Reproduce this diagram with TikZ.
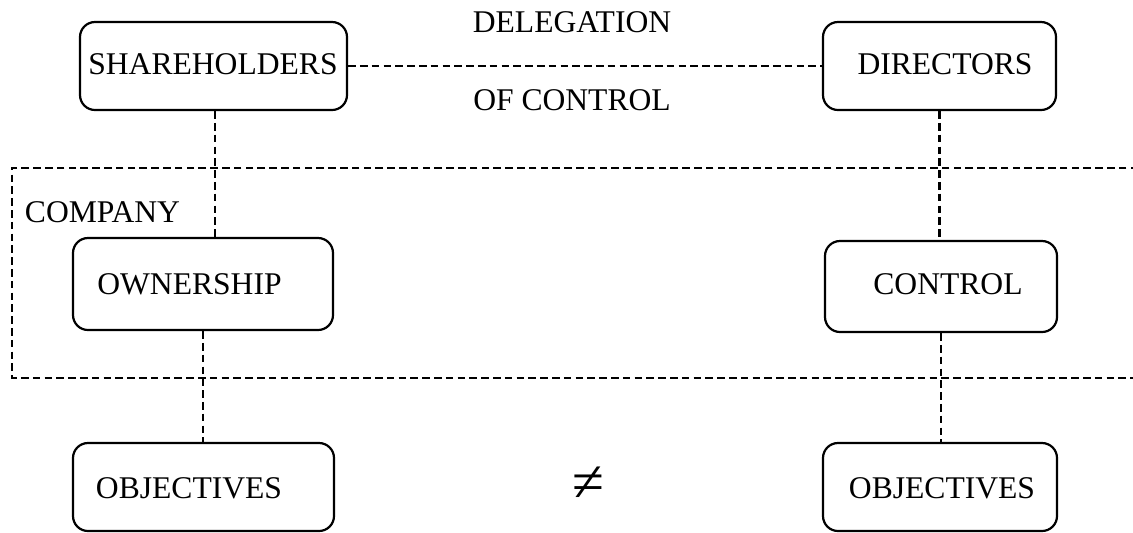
\documentclass[tikz,border=0pt]{standalone}
\usepackage{fontspec}
\setmainfont{Liberation Serif}
\usetikzlibrary{positioning}

\begin{document}
\begin{tikzpicture}[x=0.5pt, y=-0.5pt,
    font=\fontsize{15.8}{19}\selectfont,
    box/.style={draw, line width=1.1pt, rounded corners=7.5pt, minimum height=44pt},
    word/.style={inner sep=0pt, text depth=0pt},
    link/.style={line width=1.05pt, dash pattern=on 3.8pt off 2.1pt}]
    \useasboundingbox (0,0) rectangle (1133,532);

    % company frame, open on the right
    \draw[link] (1150,168) -- (12,168) -- (12,378) -- (1150,378);
    \node[word] (company) at (102.5,212) {COMPANY};

    % boxes
    \node[box, minimum width=133.5pt] (share) at (213.5,66) {};
    \node[box, minimum width=116.5pt] (dir) at (939.5,66) {};
    \node[box, minimum width=130pt, minimum height=46pt] (own) at (203,284) {};
    \node[box, minimum width=116pt, minimum height=45.5pt] (ctl) at (941,286.5) {};
    \node[box, minimum width=130.5pt] (objl) at (203.5,487) {};
    \node[box, minimum width=117pt] (objr) at (940,487) {};

    % words inside the boxes
    \node[word] (sharetext) at (213,64) {SHAREHOLDERS};
    \node[word] (dirtext) at (945,64) {DIRECTORS};
    \node[word] (owntext) at (189.5,284) {OWNERSHIP};
    \node[word] (ctltext) at (948,284) {CONTROL};
    \node[word] (objltext) at (189,488.5) {OBJECTIVES};
    \node[word] (objrtext) at (942,488.5) {OBJECTIVES};

    % delegation link
    \draw[link] (share.east) -- (dir.west);
    \node[word] (deleg) at (572,22) {DELEGATION};
    \node[word] (ofctl) at (572,100) {OF CONTROL};

    % vertical links
    \draw[link] ([xshift=0.75pt]share.south) -- ([xshift=0.75pt]share.south |- own.north);
    \draw[link] (own.south) -- (own.south |- objl.north);
    \draw[link] (dir.south) -- (dir.south |- ctl.north);
    \draw[link] (ctl.south) -- (ctl.south |- objr.north);

    \node[font=\fontsize{29}{33}\selectfont, inner sep=0pt] (neq) at (588.5,484) {≠};
\end{tikzpicture}
\end{document}
